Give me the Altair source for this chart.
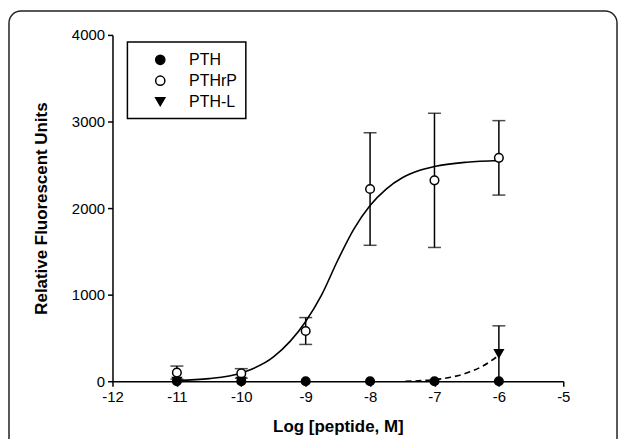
import altair as alt
import pandas as pd

# ---- data ----
log_conc = [-11, -10, -9, -8, -7, -6]
pth_mean = [0, 0, 0, 0, 0, 0]
pthrp_mean = [100, 90, 580, 2220, 2320, 2580]
pthrp_sem = [75, 55, 155, 650, 775, 430]
pthl_conc = [-11, -10, -6]
pthl_mean = [0, 0, 320]
pthl_sem = [0, 0, 320]

# fitted curves
pthrp_fit_x = [-11, -10.5, -10, -9.5, -9, -8.75, -8.5, -8.25, -8, -7.75, -7.5, -7.25, -7, -6.5, -6]
pthrp_fit_y = [10, 30, 95, 280, 690, 1000, 1400, 1760, 2030, 2220, 2350, 2430, 2480, 2530, 2550]
pthl_fit_x = [-7.45, -7.25, -7, -6.75, -6.5, -6.25, -6]
pthl_fit_y = [0, 5, 18, 45, 95, 175, 300]

series_names = ["PTH", "PTHrP", "PTH-L"]
series_shapes = ["circle", "circle", "triangle-down"]
series_fills = ["black", "white", "black"]

font = "Liberation Sans"

pts = pd.concat([
    pd.DataFrame({"series": "PTH", "x": log_conc, "y": pth_mean, "lo": pth_mean, "hi": pth_mean}),
    pd.DataFrame({"series": "PTHrP", "x": log_conc, "y": pthrp_mean,
                  "lo": [m - s for m, s in zip(pthrp_mean, pthrp_sem)],
                  "hi": [m + s for m, s in zip(pthrp_mean, pthrp_sem)]}),
    pd.DataFrame({"series": "PTH-L", "x": pthl_conc, "y": pthl_mean,
                  "lo": [max(0, m - s) for m, s in zip(pthl_mean, pthl_sem)],
                  "hi": [m + s for m, s in zip(pthl_mean, pthl_sem)]}),
], ignore_index=True)
pts["order"] = pts["series"].map({n: i for i, n in enumerate(series_names)})

err = pts[pts["hi"] > pts["lo"]]

xscale = alt.Scale(domain=[-12, -5], nice=False, zero=False)
yscale = alt.Scale(domain=[0, 4000], nice=False)

x_enc = alt.X("x:Q", scale=xscale,
              axis=alt.Axis(values=list(range(-12, -4)), format="d", title="Log [peptide, M]",
                            titleY=46, titleBaseline="middle",
                            labelExpr="replace(datum.label, '\u2212', '-')"))
y_enc = alt.Y("y:Q", scale=yscale,
              axis=alt.Axis(values=[0, 1000, 2000, 3000, 4000], format="d",
                            title="Relative Fluorescent Units",
                            titleX=-71, titleY=174, titleAngle=270,
                            titleBaseline="middle", titleAlign="center"))

one_row = pd.DataFrame({"a": [0]})

# decorative outer frame and legend box
frame = alt.Chart(one_row).mark_rect(
    fillOpacity=0, stroke="#222", strokeWidth=1.5, cornerRadius=12
).encode(x=alt.value(-104), x2=alt.value(507), y=alt.value(-24), y2=alt.value(440))

legend_box = alt.Chart(one_row).mark_rect(
    fill="white", stroke="black", strokeWidth=1.5
).encode(x=alt.value(15), x2=alt.value(134), y=alt.value(7), y2=alt.value(84))

fit1 = alt.Chart(pd.DataFrame({"x": pthrp_fit_x, "y": pthrp_fit_y})).mark_line(
    color="black", strokeWidth=1.6, interpolate="monotone"
).encode(x=x_enc, y=y_enc)

fit2 = alt.Chart(pd.DataFrame({"x": pthl_fit_x, "y": pthl_fit_y})).mark_line(
    color="black", strokeWidth=1.6, strokeDash=[6, 4], interpolate="monotone"
).encode(x=x_enc, y=y_enc)

bars = alt.Chart(err).mark_rule(color="black", strokeWidth=1.5).encode(
    x="x:Q", y="lo:Q", y2="hi:Q")
cap_hi = alt.Chart(err).mark_tick(color="black", thickness=1.5, size=13, orient="horizontal").encode(
    x="x:Q", y="hi:Q")
cap_lo = alt.Chart(err[err["lo"] > 0]).mark_tick(color="black", thickness=1.5, size=13, orient="horizontal").encode(
    x="x:Q", y="lo:Q")

leg = alt.Legend(title=None)

points = alt.Chart(pts).mark_point(size=75, filled=False, strokeWidth=1.5, opacity=1).encode(
    x="x:Q", y="y:Q",
    shape=alt.Shape("series:N", scale=alt.Scale(domain=series_names, range=series_shapes), legend=leg),
    fill=alt.Fill("series:N", scale=alt.Scale(domain=series_names, range=series_fills), legend=leg),
    stroke=alt.Stroke("series:N", scale=alt.Scale(domain=series_names, range=["black"] * 3), legend=leg),
    order=alt.Order("order:Q"),
)

chart = alt.layer(frame, legend_box, fit1, fit2, bars, cap_hi, cap_lo, points).properties(
    width=453, height=348,
    autosize=alt.AutoSizeParams(type="none"),
    padding={"left": 105, "top": 26, "right": 56, "bottom": 57},
).configure_view(stroke=None).configure_axis(
    grid=False, domainColor="black", domainWidth=1.5, tickColor="black", tickWidth=1.5,
    tickSize=5, labelColor="black", labelFont=font, labelFontSize=15, labelPadding=3,
    titleFont=font, titleFontSize=17, titleFontWeight="bold", titleColor="black",
    labelFlush=False,
).configure_legend(
    orient="none", legendX=40, legendY=17, padding=0,
    labelFont=font, labelFontSize=16, labelColor="black",
    symbolSize=85, symbolStrokeWidth=1.5, symbolOffset=0,
    rowPadding=5, labelOffset=21,
)

chart.save("out.html", embed_options={"renderer": "svg", "actions": False})
